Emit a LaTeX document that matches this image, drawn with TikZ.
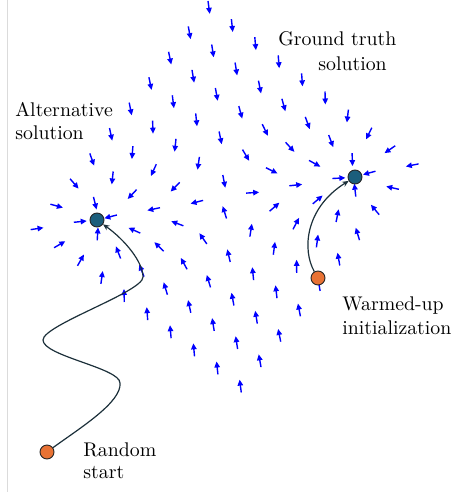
\documentclass[tikz,border=0pt]{standalone}
\usetikzlibrary{arrows.meta}
\definecolor{solfill}{RGB}{27,94,124}
\definecolor{initfill}{RGB}{232,114,52}
\definecolor{pathcol}{RGB}{28,48,58}
\definecolor{fieldblue}{RGB}{0,0,255}
\tikzset{
  solnode/.style={circle,draw=black!85,line width=0.45pt,fill=solfill,minimum size=7pt,inner sep=0pt},
  initnode/.style={circle,draw=black!85,line width=0.45pt,fill=initfill,minimum size=7pt,inner sep=0pt},
  fieldarrow/.style={draw=fieldblue,line width=0.7pt,-{Triangle[length=3pt,width=2.7pt]}},
  trajectory/.style={draw=pathcol,line width=0.6pt,-{Stealth[length=3.2pt,width=2.8pt]}},
  lbl/.style={anchor=base west,inner sep=0pt,font=\fontsize{9.9}{11.5}\selectfont,text=black}
}
\begin{document}
\begin{tikzpicture}[x=0.5pt,y=-0.5pt]
\useasboundingbox (0,0) rectangle (475,492);
% faint left border line
\draw[black!14,line width=0.5pt] (7.3,0) -- (7.3,492);
% vector field
\foreach \i in {0,...,9}{
  \foreach \j in {0,...,9}{
    \pgfmathsetmacro{\px}{208+23.4*\i-19.7*\j}
    \pgfmathsetmacro{\py}{1+18.1*\i+25.4*\j}
    \pgfmathsetmacro{\ax}{(97-\px)/100}
    \pgfmathsetmacro{\ay}{(220-\py)/100}
    \pgfmathsetmacro{\bx}{(355-\px)/100}
    \pgfmathsetmacro{\by}{(177-\py)/100}
    \pgfmathsetmacro{\ra}{\ax*\ax+\ay*\ay}
    \pgfmathsetmacro{\rb}{\bx*\bx+\by*\by}
    \pgfmathsetmacro{\vx}{\ax/\ra+\bx/\rb}
    \pgfmathsetmacro{\vy}{\ay/\ra+\by/\rb}
    \pgfmathsetmacro{\ang}{atan2(\vy,\vx)}
    \draw[fieldarrow] (\px,\py) -- ++(\ang:13);
  }
}
% nodes
\node[solnode] (alt) at (97,220) {};
\node[solnode] (gt) at (355,177) {};
\node[initnode] (rs) at (47,452) {};
\node[initnode] (wu) at (318,278) {};
% trajectories
\draw[trajectory] (rs) .. controls (80,428) and (122,402) .. (120,383)
  .. controls (120,368) and (43,356) .. (43,340)
  .. controls (43,325) and (143,292) .. (143,277)
  .. controls (143,262) and (125,240) .. (alt);
\draw[trajectory] (wu) .. controls (302,250) and (305,208) .. (gt);
% labels
\node[lbl] (altl1) at (15,117) {Alternative};
\node[lbl] (altl2) at (15,140) {solution};
\node[lbl] (gtl1) at (278,46) {Ground truth};
\node[lbl] (gtl2) at (318,71) {solution};
\node[lbl] (rsl1) at (83,456) {Random};
\node[lbl] (rsl2) at (83,478) {start};
\node[lbl] (wul1) at (342,310) {Warmed-up};
\node[lbl] (wul2) at (342,334) {initialization};
\end{tikzpicture}
\end{document}
